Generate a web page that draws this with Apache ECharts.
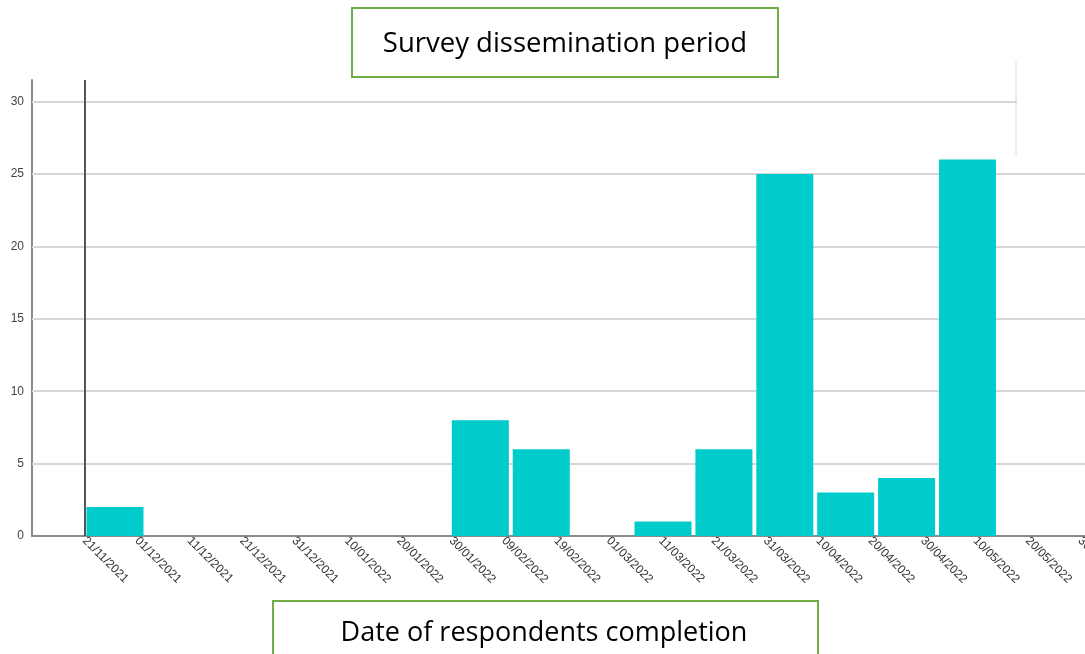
<!DOCTYPE html>
<html>
<head>
<meta charset="utf-8">
<script src="https://cdn.jsdelivr.net/npm/echarts@6/dist/echarts.min.js"></script>
<style>
html,body{margin:0;padding:0;background:#fff;}
#c{width:1085px;height:654px;}
</style>
</head>
<body>
<div id="c"></div>
<script>
// Tick labels of the date axis (every 10 days, starting 21/11/2021 = day 0)
var tickLabels = ['21/11/2021','01/12/2021','11/12/2021','21/12/2021','31/12/2021','10/01/2022','20/01/2022','30/01/2022','09/02/2022','19/02/2022','01/03/2022','11/03/2022','21/03/2022','31/03/2022','10/04/2022','20/04/2022','30/04/2022','10/05/2022','20/05/2022','30/05/2022'];
// Histogram bins (index) and respondent counts
var binIndex = [0,1,2,3,4,5,6,7,8,9,10,11,12,13,14];
var binCounts = [2,0,0,0,0,0,8,6,0,1,6,25,3,4,26];
var yTicks = [0,5,10,15,20,25,30];
var titleText = 'Survey dissemination period';
var xTitleText = 'Date of respondents completion';

var barData = binIndex.map(function(i){ return [i, binCounts[i]]; });
var gridLines = yTicks.filter(function(v){ return v>0; }).map(function(v){ return {yAxis:v}; });

var chart = echarts.init(document.getElementById('c'));
chart.setOption({
  animation:false,
  backgroundColor:'#fff',
  grid:{left:32,right:0,top:80,bottom:118,containLabel:false,outerBoundsMode:'none'},
  xAxis:[{
    type:'value', min:-10, max:191, interval:10,
    axisLine:{show:true,onZero:false,lineStyle:{color:'#8a8a8a',width:2}},
    axisTick:{show:false},
    splitLine:{show:false},
    axisLabel:{
      rotate:-45, margin:3, fontSize:12, color:'#333',
      fontFamily:'Liberation Sans', showMinLabel:true, showMaxLabel:false, hideOverlap:false,
      formatter:function(v){ if(v<0) return ''; var k=Math.round(v/10); return tickLabels[k]||''; }
    }
  },{
    type:'value', min:-1.363, max:15.93, show:false
  }],
  yAxis:{
    type:'value', min:0, max:31.5, interval:5,
    axisLine:{show:true,onZero:false,lineStyle:{color:'#8a8a8a',width:2}},
    axisTick:{show:false},
    splitLine:{show:false},
    axisLabel:{
      margin:8, fontSize:12, color:'#444', fontFamily:'Liberation Sans',
      showMaxLabel:false,
      formatter:function(v){ return yTicks.indexOf(v)>=0 ? String(v) : ''; }
    }
  },
  series:[{
    type:'bar', xAxisIndex:1, data:barData, barWidth:57,
    itemStyle:{color:'#00cccc'},
    z:10
  },{
    type:'line', xAxisIndex:0, data:[], symbol:'none', z:1,
    markLine:{
      silent:true, z:1, symbol:['none','none'], label:{show:false},
      lineStyle:{color:'#d6d6d6',width:2,type:'solid'},
      data:gridLines
    }
  },{
    type:'line', xAxisIndex:0, data:[], symbol:'none', z:11,
    markLine:{
      silent:true, z:11, symbol:['none','none'], label:{show:false},
      lineStyle:{color:'#555',width:2,type:'solid'},
      data:[{xAxis:0}]
    }
  }],
  graphic:[
    {type:'rect', left:1017, top:97, shape:{width:70,height:10}, style:{fill:'#fff'}, z:100},
    {type:'line', shape:{x1:1016,y1:62,x2:1016,y2:155}, style:{stroke:'#d8d8d8',lineWidth:1}, z:100},
    {type:'group', left:351, top:7, z:100, children:[
      {type:'rect', shape:{x:0,y:0,width:426,height:69}, style:{fill:'#fff',stroke:'#70ad47',lineWidth:2}},
      {type:'text', x:213, y:36, style:{text:titleText, font:'27.5px "Open Sans"', fill:'#000', align:'center', verticalAlign:'middle'}}
    ]},
    {type:'group', left:272, top:600, z:100, children:[
      {type:'rect', shape:{x:0,y:0,width:545,height:70}, style:{fill:'#fff',stroke:'#70ad47',lineWidth:2}},
      {type:'text', x:271, y:32, style:{text:xTitleText, font:'27px "Open Sans"', fill:'#000', align:'center', verticalAlign:'middle'}}
    ]}
  ]
});
</script>
</body>
</html>
